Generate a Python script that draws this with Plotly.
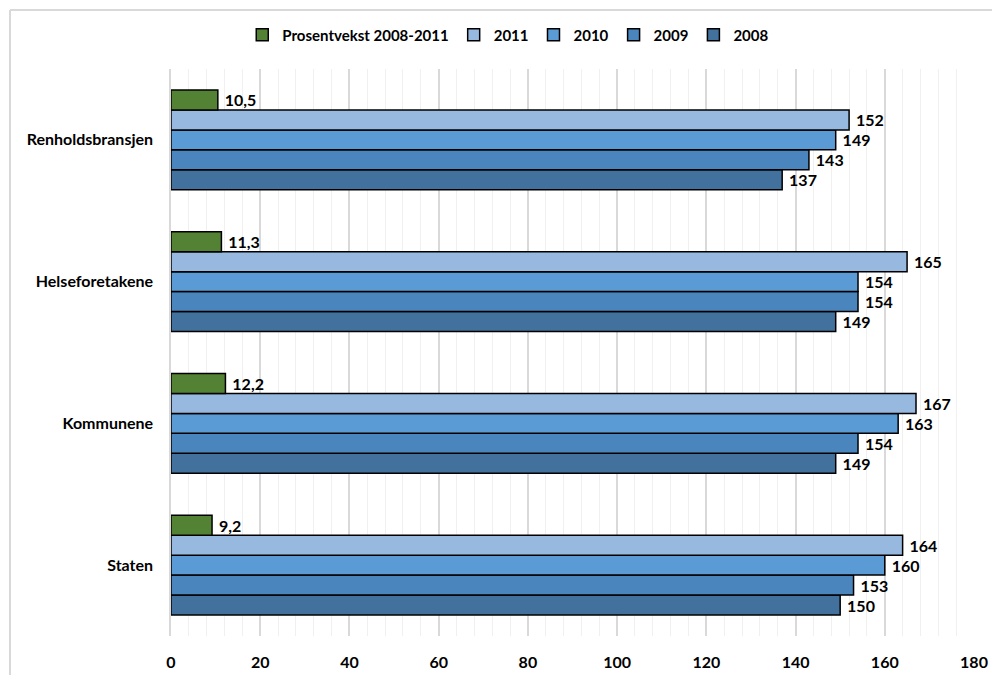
import plotly.graph_objects as go

categories = ["Staten", "Kommunene", "Helseforetakene", "Renholdsbransjen"]
v2008 = [150, 149, 149, 137]
v2009 = [153, 154, 154, 143]
v2010 = [160, 163, 154, 149]
v2011 = [164, 167, 165, 152]
vekst = [9.2, 12.2, 11.3, 10.5]

series = [
    ("2008", v2008, "#41719C"),
    ("2009", v2009, "#4A86BD"),
    ("2010", v2010, "#5B9BD5"),
    ("2011", v2011, "#97B9E0"),
    ("Prosentvekst 2008-2011", vekst, "#548235"),
]

FONT = "Lato"
FS = 16
fig = go.Figure()
for name, vals, col in series:
    txt = ["\u00a0" + (f"{v:g}").replace(".", ",") for v in vals]
    fig.add_trace(go.Bar(
        name=name, y=categories, x=vals, orientation="h",
        marker=dict(color=col, line=dict(color="#000000", width=1.5)),
        text=txt, textposition="outside", cliponaxis=False,
        textfont=dict(family=FONT, size=FS, color="#000000", weight="bold"),
    ))

fig.update_layout(
    width=992, height=675,
    margin=dict(l=171, r=18, t=69, b=39),
    barmode="group", bargap=0.295, bargroupgap=0,
    plot_bgcolor="white", paper_bgcolor="white",
    font=dict(family=FONT, size=FS, color="#000000"),
    legend=dict(orientation="h", traceorder="reversed", x=0.42, xanchor="center",
                y=1.06, yanchor="middle", font=dict(family=FONT, size=FS - 1, weight="bold"),
                itemwidth=30, tracegroupgap=0),
    xaxis=dict(range=[0, 180], dtick=20, showgrid=True, gridcolor="#D9D9D9", gridwidth=1.5,
               minor=dict(dtick=4, showgrid=True, gridcolor="#F0F0F0", gridwidth=1),
               zeroline=False, showline=False, ticks="", automargin=False,
               tickfont=dict(family=FONT, size=FS, weight="bold"), ticklabelstandoff=15),
    yaxis=dict(showline=True, linecolor="#D9D9D9", linewidth=1.5, ticks="", automargin=False,
               tickfont=dict(family=FONT, size=FS, weight="bold"), ticklabelstandoff=13),
    shapes=[
        dict(type="line", xref="paper", yref="paper", x0=(10 - 171) / 803, x1=1.05,
             y0=(636 - 10) / 567, y1=(636 - 10) / 567, line=dict(color="#D9D9D9", width=2)),
        dict(type="line", xref="paper", yref="paper", x0=(10 - 171) / 803, x1=(10 - 171) / 803,
             y0=(636 - 10) / 567, y1=-0.1, line=dict(color="#D9D9D9", width=2)),
    ],
)

fig.write_html("out.html")
